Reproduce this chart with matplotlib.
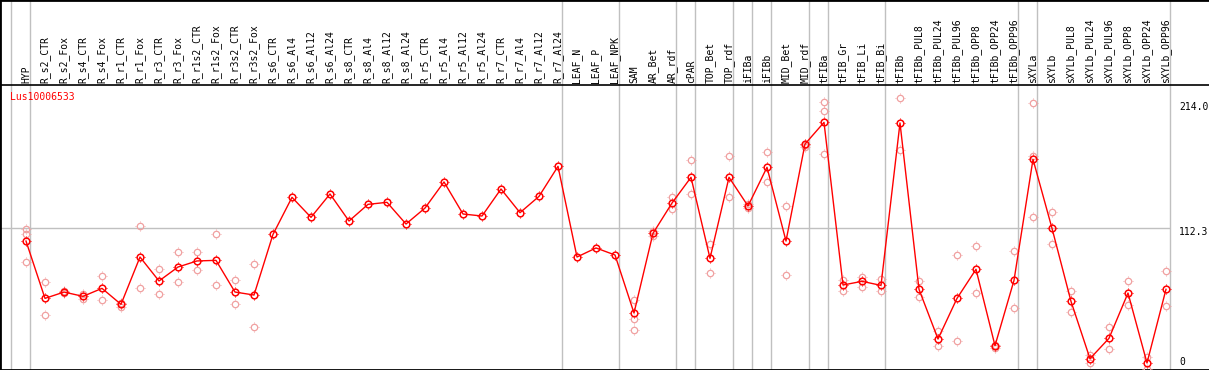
import numpy as np
import matplotlib
matplotlib.use('Agg')
import matplotlib.pyplot as plt
import matplotlib.path as mpath

# sample names along the top
samples = ['HYP',
           'R_s2_CTR', 'R_s2_Fox', 'R_s4_CTR', 'R_s4_Fox', 'R_r1_CTR', 'R_r1_Fox',
           'R_r3_CTR', 'R_r3_Fox', 'R_r1s2_CTR', 'R_r1s2_Fox', 'R_r3s2_CTR', 'R_r3s2_Fox',
           'R_s6_CTR', 'R_s6_Al4', 'R_s6_Al12', 'R_s6_Al24',
           'R_s8_CTR', 'R_s8_Al4', 'R_s8_Al12', 'R_s8_Al24',
           'R_r5_CTR', 'R_r5_Al4', 'R_r5_Al12', 'R_r5_Al24',
           'R_r7_CTR', 'R_r7_Al4', 'R_r7_Al12', 'R_r7_Al24',
           'LEAF_N', 'LEAF_P', 'LEAF_NPK', 'SAM', 'AR_Bet', 'AR_rdf', 'cPAR',
           'TOP_Bet', 'TOP_rdf', 'iFIBa', 'iFIBb', 'MID_Bet', 'MID_rdf',
           'tFIBa', 'tFIB_Gr', 'tFIB_Li', 'tFIB_Bi', 'tFIBb',
           'tFIBb_PUL8', 'tFIBb_PUL24', 'tFIBb_PUL96', 'tFIBb_OPP8', 'tFIBb_OPP24', 'tFIBb_OPP96',
           'sXYLa', 'sXYLb', 'sXYLb_PUL8', 'sXYLb_PUL24', 'sXYLb_PUL96',
           'sXYLb_OPP8', 'sXYLb_OPP24', 'sXYLb_OPP96']

# mean expression per sample
means = [101.5, 53.4, 58.7, 55.1, 61.8, 48.4, 88.1, 68.0, 79.7, 84.8, 85.3, 58.7, 56.2,
         107.1, 138.2, 121.4, 141.0, 118.3, 132.3, 134.0, 115.8, 129.2, 151.1, 124.2, 122.5,
         145.2, 125.3, 139.0, 164.2, 88.1, 95.7, 89.8, 41.1, 108.0, 133.4, 155.0,
         87.0, 155.0, 130.9, 163.4, 101.5, 182.9, 201.1, 64.6, 67.7, 64.3, 200.6,
         61.0, 19.3, 53.4, 77.8, 13.7, 68.5, 170.1, 112.2, 50.9, 2.8, 19.9, 57.9, -0.8, 61.0]

# replicate values per sample (empty = single value)
reps = [[111.6, 107.4, 83.6], [66.9, 39.2], [59.6, 57.6], [57.1, 52.9], [71.9, 51.8],
        [49.8, 46.2], [113.9, 61.8], [77.8, 56.8], [92.0, 66.9], [92.0, 76.9],
        [107.1, 64.3], [68.5, 48.4], [82.2, 29.1],
        [], [], [], [], [], [], [], [], [], [], [], [], [], [], [], [], [], [], [],
        [52.0, 36.1, 26.6], [110.2, 106.0], [138.5, 128.1], [169.2, 140.7],
        [99.0, 74.4], [172.6, 138.2], [132.3, 129.5], [176.0, 150.8], [130.6, 72.7],
        [182.1, 180.7], [217.9, 210.9, 174.3], [68.8, 59.3], [71.6, 63.2], [69.6, 59.6],
        [221.3, 178.2], [68.0, 54.3], [26.3, 13.1], [89.8, 17.6], [97.3, 57.9],
        [14.5, 11.5], [92.9, 45.0], [217.1, 173.2, 121.4], [125.6, 99.0], [59.3, 41.7],
        [5.6, -0.6], [29.1, 10.9], [68.0, 47.8], [4.2, -5.6], [76.1, 46.7]]

# last sample of each group (separator lines), -1 = left edge
group_ends = [-1, 0, 28, 31, 34, 35, 37, 38, 39, 41, 42, 45, 52, 53, 60]

gene = 'Lus10006533'
ymax_lab = 214.0
ymid_lab = 112.3

# small ticks round the circles
verts, codes = [], []
for a in [0, 90, 180, 270]:
    c, s = np.cos(np.radians(a)), np.sin(np.radians(a))
    verts += [(0.75 * c, 0.75 * s), (1.0 * c, 1.0 * s)]
    codes += [mpath.Path.MOVETO, mpath.Path.LINETO]
ticks = mpath.Path(verts, codes)

fig = plt.figure(figsize=(12.09, 3.70), dpi=100)
ax = fig.add_axes([0, 0, 1, 1])
x = np.arange(len(samples))

# pixel mapping: x = 26 + 19*i, y = 362 - 1.1916*v
ax.set_xlim(-26 / 19, (1209 - 26) / 19)
ax.set_ylim(-8 / 1.1916, 362 / 1.1916)
head = (362 - 85) / 1.1916
lab_y = (362 - 83) / 1.1916

for g in group_ends:
    ax.axvline(g + 0.21, color='#c0c0c0', lw=1, zorder=1)
ax.hlines(ymid_lab, -26 / 19, group_ends[-1] + 0.21, color='#c0c0c0', lw=1, zorder=1)
ax.axhline(head, color='black', lw=1.2, zorder=2)

for i, r in enumerate(reps):
    if r:
        ax.plot([i] * len(r), r, linestyle='none', marker='o', ms=4.6, mfc='none',
                mec='#f0a0a0', mew=0.9, zorder=3)
        ax.plot([i] * len(r), r, linestyle='none', marker=ticks, ms=6.8, mfc='none',
                mec='#f0a0a0', mew=0.6, zorder=3)
ax.plot(x, means, color='red', lw=1.0, zorder=4)
ax.plot(x, means, linestyle='none', marker='o', ms=4.8, mfc='none', mec='red',
        mew=1.1, zorder=5)
ax.plot(x, means, linestyle='none', marker=ticks, ms=7.0, mfc='none', mec='red',
        mew=0.7, zorder=5)

mono = 'DejaVu Sans Mono'
for i, s in enumerate(samples):
    ax.text(i, lab_y, s, rotation=90, ha='center', va='bottom', fontsize=7, family=mono)

ax.text(-16 / 19, (362 - 97) / 1.1916, gene, color='red', fontsize=7, family=mono,
        ha='left', va='center')
xr = (1179 - 26) / 19
ax.text(xr, ymax_lab, '%.1f' % ymax_lab, fontsize=7, family=mono, ha='left', va='center')
ax.text(xr, ymid_lab - 4 / 1.1916, '%.1f' % ymid_lab, fontsize=7, family=mono,
        ha='left', va='center')
ax.text(xr, 0, '0', fontsize=7, family=mono, ha='left', va='center')

ax.set_xticks([])
ax.set_yticks([])
ax.spines['right'].set_visible(False)
for sp in ['top', 'left', 'bottom']:
    ax.spines[sp].set_linewidth(2)

fig.savefig('out.png', dpi=100)
